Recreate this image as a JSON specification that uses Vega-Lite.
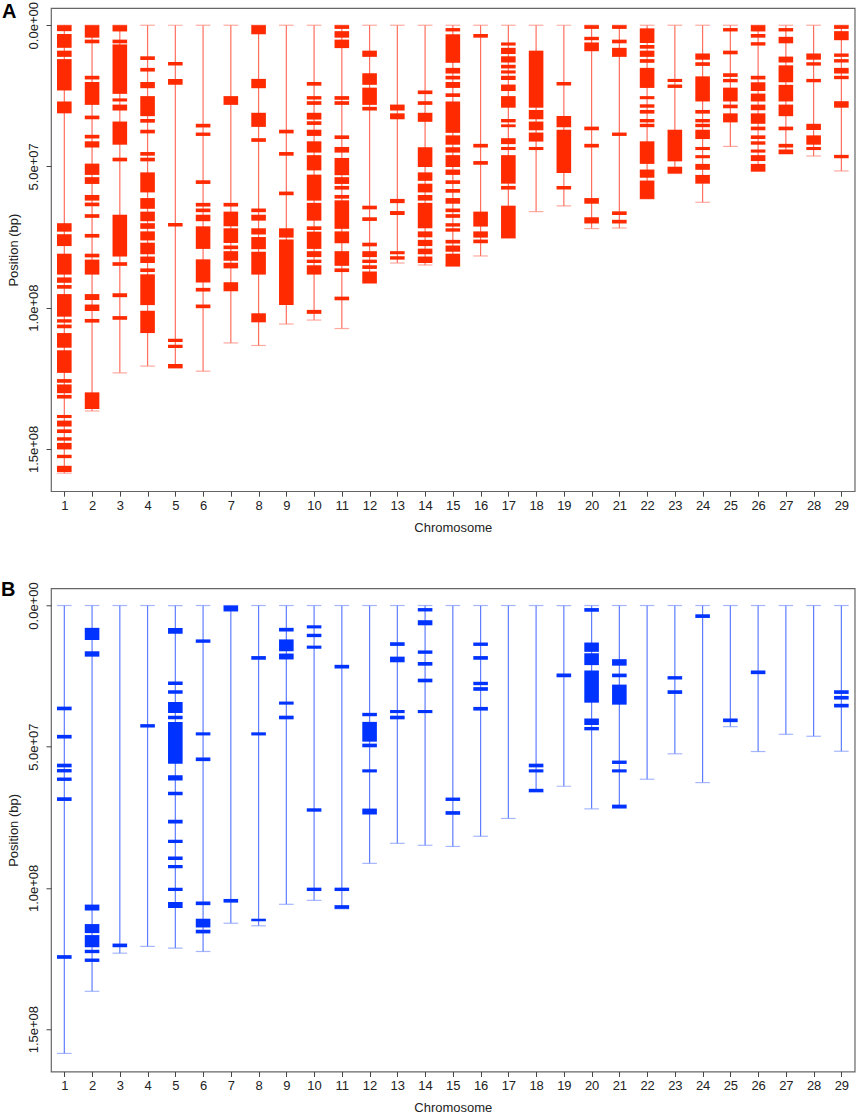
{
  "$schema": "https://vega.github.io/schema/vega-lite/v6.json",
  "background": "white",
  "padding": {"left": 0, "top": 0, "right": 2, "bottom": 0},
  "spacing": 96.3,
  "bounds": "flush",
  "config": {
    "view": {"stroke": "#666666", "strokeWidth": 1.2},
    "font": "Liberation Sans",
    "axis": {"grid": false, "domain": false, "tickColor": "#444444", "tickSize": 5, "labelFontSize": 13, "titleFontSize": 13, "titleFontWeight": "normal", "labelColor": "#222222", "titleColor": "#222222"},
    "axisX": {"labelPadding": 3, "titlePadding": 9, "labelAngle": 0, "labelFlush": false},
    "axisY": {"labelAngle": -90, "labelAlign": "center", "labelBaseline": "middle", "labelPadding": 12, "titlePadding": 7, "labelFlush": false, "labelOverlap": false},
    "title": {"fontSize": 20, "fontWeight": "bold", "color": "#000000", "anchor": "start", "frame": "group"}
  },
  "datasets": {
    "chroms": [
      {"chr":1,"start":0,"length":158600000},{"chr":2,"start":0,"length":136600000},{"chr":3,"start":0,"length":123100000},{"chr":4,"start":0,"length":120700000},{"chr":5,"start":0,"length":121300000},{"chr":6,"start":0,"length":122500000},{"chr":7,"start":0,"length":112500000},{"chr":8,"start":0,"length":113400000},{"chr":9,"start":0,"length":105800000},{"chr":10,"start":0,"length":104400000},{"chr":11,"start":0,"length":107400000},{"chr":12,"start":0,"length":91300000},{"chr":13,"start":0,"length":84200000},{"chr":14,"start":0,"length":84900000},{"chr":15,"start":0,"length":85300000},{"chr":16,"start":0,"length":81700000},{"chr":17,"start":0,"length":75400000},{"chr":18,"start":0,"length":66000000},{"chr":19,"start":0,"length":64000000},{"chr":20,"start":0,"length":72000000},{"chr":21,"start":0,"length":71800000},{"chr":22,"start":0,"length":61500000},{"chr":23,"start":0,"length":52500000},{"chr":24,"start":0,"length":62700000},{"chr":25,"start":0,"length":42900000},{"chr":26,"start":0,"length":51700000},{"chr":27,"start":0,"length":45600000},{"chr":28,"start":0,"length":46300000},{"chr":29,"start":0,"length":51600000}
    ],
    "windows_a": [
      {"chr":1,"start":0,"end":2100000},{"chr":1,"start":3100000,"end":8000000},{"chr":1,"start":9000000,"end":11200000},{"chr":1,"start":12000000,"end":23100000},{"chr":1,"start":27000000,"end":31200000},{"chr":1,"start":70100000,"end":73100000},{"chr":1,"start":74000000,"end":78200000},{"chr":1,"start":80900000,"end":88300000},{"chr":1,"start":89300000,"end":91200000},{"chr":1,"start":92000000,"end":93300000},{"chr":1,"start":95200000,"end":103200000},{"chr":1,"start":104100000,"end":105300000},{"chr":1,"start":106000000,"end":107300000},{"chr":1,"start":109000000,"end":114200000},{"chr":1,"start":115100000,"end":123100000},{"chr":1,"start":125300000,"end":126600000},{"chr":1,"start":127200000,"end":130300000},{"chr":1,"start":130900000,"end":132200000},{"chr":1,"start":138000000,"end":139100000},{"chr":1,"start":140000000,"end":142100000},{"chr":1,"start":143100000,"end":144400000},{"chr":1,"start":145900000,"end":147100000},{"chr":1,"start":147900000,"end":150200000},{"chr":1,"start":152100000,"end":153300000},{"chr":1,"start":156000000,"end":158200000},
      {"chr":2,"start":0,"end":4400000},{"chr":2,"start":5100000,"end":6400000},{"chr":2,"start":17900000,"end":19200000},{"chr":2,"start":20100000,"end":28200000},{"chr":2,"start":32000000,"end":33300000},{"chr":2,"start":38800000,"end":40100000},{"chr":2,"start":41100000,"end":43300000},{"chr":2,"start":49000000,"end":53000000},{"chr":2,"start":53800000,"end":56200000},{"chr":2,"start":60100000,"end":62100000},{"chr":2,"start":62800000,"end":64100000},{"chr":2,"start":66900000,"end":68200000},{"chr":2,"start":73900000,"end":75200000},{"chr":2,"start":80900000,"end":82200000},{"chr":2,"start":83000000,"end":88300000},{"chr":2,"start":95200000,"end":97300000},{"chr":2,"start":98900000,"end":101200000},{"chr":2,"start":104000000,"end":105300000},{"chr":2,"start":130000000,"end":135900000},
      {"chr":3,"start":0,"end":2200000},{"chr":3,"start":5100000,"end":6400000},{"chr":3,"start":6800000,"end":24300000},{"chr":3,"start":25900000,"end":27000000},{"chr":3,"start":28100000,"end":30200000},{"chr":3,"start":34100000,"end":42300000},{"chr":3,"start":46900000,"end":48200000},{"chr":3,"start":67100000,"end":81900000},{"chr":3,"start":83900000,"end":85200000},{"chr":3,"start":94900000,"end":96300000},{"chr":3,"start":103000000,"end":104300000},
      {"chr":4,"start":11000000,"end":12300000},{"chr":4,"start":15100000,"end":16400000},{"chr":4,"start":20100000,"end":22300000},{"chr":4,"start":25100000,"end":32200000},{"chr":4,"start":33200000,"end":34500000},{"chr":4,"start":37000000,"end":38300000},{"chr":4,"start":44900000,"end":46200000},{"chr":4,"start":46900000,"end":48200000},{"chr":4,"start":52100000,"end":59200000},{"chr":4,"start":61200000,"end":65000000},{"chr":4,"start":66000000,"end":69400000},{"chr":4,"start":70100000,"end":72100000},{"chr":4,"start":73000000,"end":76200000},{"chr":4,"start":77000000,"end":81100000},{"chr":4,"start":81900000,"end":84200000},{"chr":4,"start":86100000,"end":87400000},{"chr":4,"start":88200000,"end":99100000},{"chr":4,"start":101100000,"end":109000000},
      {"chr":5,"start":13000000,"end":14300000},{"chr":5,"start":19000000,"end":21100000},{"chr":5,"start":70000000,"end":71300000},{"chr":5,"start":111000000,"end":112200000},{"chr":5,"start":113100000,"end":114300000},{"chr":5,"start":120000000,"end":121500000},
      {"chr":6,"start":34900000,"end":36200000},{"chr":6,"start":38000000,"end":39200000},{"chr":6,"start":54900000,"end":56200000},{"chr":6,"start":62900000,"end":64200000},{"chr":6,"start":64900000,"end":66200000},{"chr":6,"start":67100000,"end":69400000},{"chr":6,"start":71200000,"end":79200000},{"chr":6,"start":82900000,"end":91100000},{"chr":6,"start":93000000,"end":94300000},{"chr":6,"start":98900000,"end":100200000},
      {"chr":7,"start":25100000,"end":28200000},{"chr":7,"start":62900000,"end":64200000},{"chr":7,"start":66000000,"end":71200000},{"chr":7,"start":71900000,"end":77100000},{"chr":7,"start":78000000,"end":79300000},{"chr":7,"start":80000000,"end":83400000},{"chr":7,"start":84100000,"end":86100000},{"chr":7,"start":91000000,"end":94200000},
      {"chr":8,"start":0,"end":3200000},{"chr":8,"start":19000000,"end":22300000},{"chr":8,"start":31000000,"end":36000000},{"chr":8,"start":40000000,"end":41300000},{"chr":8,"start":64900000,"end":66200000},{"chr":8,"start":67100000,"end":69200000},{"chr":8,"start":71900000,"end":74100000},{"chr":8,"start":75000000,"end":79300000},{"chr":8,"start":80200000,"end":88300000},{"chr":8,"start":102000000,"end":105200000},
      {"chr":9,"start":37000000,"end":38300000},{"chr":9,"start":44900000,"end":46200000},{"chr":9,"start":58900000,"end":60200000},{"chr":9,"start":71900000,"end":75200000},{"chr":9,"start":75900000,"end":99100000},
      {"chr":10,"start":20100000,"end":21400000},{"chr":10,"start":25100000,"end":26300000},{"chr":10,"start":26900000,"end":28200000},{"chr":10,"start":31000000,"end":33400000},{"chr":10,"start":34000000,"end":35300000},{"chr":10,"start":37000000,"end":39200000},{"chr":10,"start":41100000,"end":45100000},{"chr":10,"start":46000000,"end":51400000},{"chr":10,"start":52900000,"end":62100000},{"chr":10,"start":62900000,"end":69200000},{"chr":10,"start":71200000,"end":72500000},{"chr":10,"start":73100000,"end":79200000},{"chr":10,"start":80000000,"end":82100000},{"chr":10,"start":83000000,"end":84200000},{"chr":10,"start":85000000,"end":88300000},{"chr":10,"start":100800000,"end":102200000},
      {"chr":11,"start":0,"end":1300000},{"chr":11,"start":2100000,"end":4400000},{"chr":11,"start":5100000,"end":8100000},{"chr":11,"start":25100000,"end":26400000},{"chr":11,"start":26900000,"end":28200000},{"chr":11,"start":39000000,"end":40300000},{"chr":11,"start":43100000,"end":45100000},{"chr":11,"start":47000000,"end":53100000},{"chr":11,"start":53800000,"end":56200000},{"chr":11,"start":56900000,"end":58200000},{"chr":11,"start":60100000,"end":61400000},{"chr":11,"start":62000000,"end":72100000},{"chr":11,"start":73000000,"end":77200000},{"chr":11,"start":80000000,"end":85200000},{"chr":11,"start":86100000,"end":87400000},{"chr":11,"start":96100000,"end":97400000},
      {"chr":12,"start":9000000,"end":11200000},{"chr":12,"start":17000000,"end":21100000},{"chr":12,"start":22100000,"end":28200000},{"chr":12,"start":28900000,"end":30200000},{"chr":12,"start":63900000,"end":65200000},{"chr":12,"start":68000000,"end":69300000},{"chr":12,"start":77000000,"end":78300000},{"chr":12,"start":80000000,"end":82100000},{"chr":12,"start":83000000,"end":84200000},{"chr":12,"start":85000000,"end":86300000},{"chr":12,"start":87200000,"end":91400000},
      {"chr":13,"start":28100000,"end":30200000},{"chr":13,"start":31200000,"end":33300000},{"chr":13,"start":61500000,"end":63000000},{"chr":13,"start":65800000,"end":67200000},{"chr":13,"start":80000000,"end":81100000},{"chr":13,"start":81800000,"end":83000000},
      {"chr":14,"start":23100000,"end":24400000},{"chr":14,"start":26900000,"end":28200000},{"chr":14,"start":31000000,"end":34200000},{"chr":14,"start":43200000,"end":50200000},{"chr":14,"start":52100000,"end":55100000},{"chr":14,"start":56100000,"end":59200000},{"chr":14,"start":60100000,"end":62100000},{"chr":14,"start":62900000,"end":71900000},{"chr":14,"start":73000000,"end":75100000},{"chr":14,"start":76000000,"end":78200000},{"chr":14,"start":79100000,"end":81100000},{"chr":14,"start":81900000,"end":84200000},
      {"chr":15,"start":1000000,"end":2200000},{"chr":15,"start":3200000,"end":13300000},{"chr":15,"start":15100000,"end":17100000},{"chr":15,"start":17900000,"end":19200000},{"chr":15,"start":20100000,"end":22200000},{"chr":15,"start":24100000,"end":25400000},{"chr":15,"start":27000000,"end":38100000},{"chr":15,"start":39000000,"end":42300000},{"chr":15,"start":43200000,"end":45100000},{"chr":15,"start":46000000,"end":50200000},{"chr":15,"start":51100000,"end":53000000},{"chr":15,"start":54900000,"end":56200000},{"chr":15,"start":58000000,"end":59300000},{"chr":15,"start":61200000,"end":63200000},{"chr":15,"start":64900000,"end":66200000},{"chr":15,"start":66900000,"end":68200000},{"chr":15,"start":70100000,"end":71300000},{"chr":15,"start":71900000,"end":73100000},{"chr":15,"start":76000000,"end":77300000},{"chr":15,"start":78000000,"end":80200000},{"chr":15,"start":80900000,"end":85400000},
      {"chr":16,"start":3100000,"end":4400000},{"chr":16,"start":42000000,"end":43300000},{"chr":16,"start":48100000,"end":49400000},{"chr":16,"start":66000000,"end":71300000},{"chr":16,"start":73000000,"end":75200000},{"chr":16,"start":75900000,"end":77200000},
      {"chr":17,"start":6100000,"end":7200000},{"chr":17,"start":8000000,"end":10200000},{"chr":17,"start":11000000,"end":13200000},{"chr":17,"start":14000000,"end":15300000},{"chr":17,"start":16000000,"end":17100000},{"chr":17,"start":17900000,"end":19400000},{"chr":17,"start":21000000,"end":23300000},{"chr":17,"start":25100000,"end":29200000},{"chr":17,"start":33200000,"end":34400000},{"chr":17,"start":35100000,"end":36100000},{"chr":17,"start":40000000,"end":42100000},{"chr":17,"start":43100000,"end":44200000},{"chr":17,"start":46000000,"end":56100000},{"chr":17,"start":56900000,"end":58200000},{"chr":17,"start":63900000,"end":75400000},
      {"chr":18,"start":9000000,"end":29200000},{"chr":18,"start":30000000,"end":33300000},{"chr":18,"start":34100000,"end":37200000},{"chr":18,"start":38000000,"end":41200000},{"chr":18,"start":43100000,"end":44200000},
      {"chr":19,"start":20100000,"end":21300000},{"chr":19,"start":32100000,"end":36100000},{"chr":19,"start":37000000,"end":52300000},{"chr":19,"start":56900000,"end":58200000},
      {"chr":20,"start":0,"end":1300000},{"chr":20,"start":4100000,"end":5300000},{"chr":20,"start":6100000,"end":9200000},{"chr":20,"start":35900000,"end":37200000},{"chr":20,"start":42000000,"end":43300000},{"chr":20,"start":61200000,"end":63200000},{"chr":20,"start":68000000,"end":70200000},
      {"chr":21,"start":0,"end":1300000},{"chr":21,"start":5100000,"end":6400000},{"chr":21,"start":8000000,"end":11200000},{"chr":21,"start":38000000,"end":39200000},{"chr":21,"start":65900000,"end":67200000},{"chr":21,"start":68900000,"end":70200000},
      {"chr":22,"start":1100000,"end":6300000},{"chr":22,"start":7000000,"end":8300000},{"chr":22,"start":9000000,"end":11200000},{"chr":22,"start":12000000,"end":13300000},{"chr":22,"start":15100000,"end":22200000},{"chr":22,"start":25100000,"end":26200000},{"chr":22,"start":28000000,"end":29200000},{"chr":22,"start":30000000,"end":31300000},{"chr":22,"start":33200000,"end":34400000},{"chr":22,"start":34900000,"end":36100000},{"chr":22,"start":41100000,"end":49100000},{"chr":22,"start":51100000,"end":54000000},{"chr":22,"start":55000000,"end":61500000},
      {"chr":23,"start":19000000,"end":20100000},{"chr":23,"start":21000000,"end":22200000},{"chr":23,"start":37000000,"end":48200000},{"chr":23,"start":50100000,"end":52500000},
      {"chr":24,"start":10000000,"end":12200000},{"chr":24,"start":13100000,"end":14400000},{"chr":24,"start":18100000,"end":27000000},{"chr":24,"start":30000000,"end":31300000},{"chr":24,"start":33200000,"end":34400000},{"chr":24,"start":34900000,"end":36100000},{"chr":24,"start":37000000,"end":40300000},{"chr":24,"start":43100000,"end":44200000},{"chr":24,"start":46000000,"end":47100000},{"chr":24,"start":49100000,"end":51200000},{"chr":24,"start":53000000,"end":56100000},
      {"chr":25,"start":1000000,"end":2200000},{"chr":25,"start":9000000,"end":10300000},{"chr":25,"start":17000000,"end":18300000},{"chr":25,"start":19000000,"end":20200000},{"chr":25,"start":22100000,"end":27000000},{"chr":25,"start":28100000,"end":29400000},{"chr":25,"start":31200000,"end":34400000},
      {"chr":26,"start":0,"end":2200000},{"chr":26,"start":3100000,"end":4400000},{"chr":26,"start":6000000,"end":7200000},{"chr":26,"start":17900000,"end":19200000},{"chr":26,"start":20200000,"end":23300000},{"chr":26,"start":24200000,"end":27000000},{"chr":26,"start":28100000,"end":30100000},{"chr":26,"start":31200000,"end":34900000},{"chr":26,"start":35900000,"end":37200000},{"chr":26,"start":39000000,"end":40300000},{"chr":26,"start":41100000,"end":42300000},{"chr":26,"start":44000000,"end":45100000},{"chr":26,"start":46000000,"end":48100000},{"chr":26,"start":49100000,"end":51800000},
      {"chr":27,"start":1000000,"end":2200000},{"chr":27,"start":4100000,"end":6400000},{"chr":27,"start":11100000,"end":13200000},{"chr":27,"start":14200000,"end":20200000},{"chr":27,"start":21100000,"end":27000000},{"chr":27,"start":28100000,"end":32200000},{"chr":27,"start":35900000,"end":37200000},{"chr":27,"start":42000000,"end":43300000},{"chr":27,"start":44000000,"end":45600000},
      {"chr":28,"start":10000000,"end":12200000},{"chr":28,"start":13100000,"end":14300000},{"chr":28,"start":19000000,"end":20200000},{"chr":28,"start":34900000,"end":37100000},{"chr":28,"start":39000000,"end":42300000},{"chr":28,"start":43100000,"end":44200000},
      {"chr":29,"start":0,"end":1300000},{"chr":29,"start":2100000,"end":5300000},{"chr":29,"start":10000000,"end":11200000},{"chr":29,"start":12000000,"end":13200000},{"chr":29,"start":15100000,"end":17100000},{"chr":29,"start":17900000,"end":19100000},{"chr":29,"start":26900000,"end":29200000},{"chr":29,"start":45900000,"end":47100000}
    ],
    "windows_b": [
      {"chr":1,"start":35800000,"end":37100000},{"chr":1,"start":45800000,"end":47100000},{"chr":1,"start":56000000,"end":57300000},{"chr":1,"start":57900000,"end":59100000},{"chr":1,"start":60900000,"end":62100000},{"chr":1,"start":67900000,"end":69200000},{"chr":1,"start":123800000,"end":125100000},
      {"chr":2,"start":7900000,"end":12200000},{"chr":2,"start":16200000,"end":18100000},{"chr":2,"start":105900000,"end":108000000},{"chr":2,"start":112800000,"end":116000000},{"chr":2,"start":116700000,"end":121000000},{"chr":2,"start":121900000,"end":123100000},{"chr":2,"start":125000000,"end":126200000},
      {"chr":3,"start":119700000,"end":121000000},
      {"chr":4,"start":42000000,"end":43200000},
      {"chr":5,"start":8000000,"end":10000000},{"chr":5,"start":26900000,"end":28100000},{"chr":5,"start":30000000,"end":31200000},{"chr":5,"start":34200000,"end":38100000},{"chr":5,"start":39000000,"end":40300000},{"chr":5,"start":41200000,"end":56000000},{"chr":5,"start":60100000,"end":62000000},{"chr":5,"start":65900000,"end":67200000},{"chr":5,"start":75900000,"end":77200000},{"chr":5,"start":82900000,"end":84100000},{"chr":5,"start":88900000,"end":90100000},{"chr":5,"start":91900000,"end":93000000},{"chr":5,"start":99900000,"end":101100000},{"chr":5,"start":105000000,"end":107100000},
      {"chr":6,"start":12000000,"end":13200000},{"chr":6,"start":44900000,"end":46000000},{"chr":6,"start":53800000,"end":55100000},{"chr":6,"start":104800000,"end":106100000},{"chr":6,"start":110900000,"end":114000000},{"chr":6,"start":114800000,"end":116100000},
      {"chr":7,"start":0,"end":2100000},{"chr":7,"start":103900000,"end":105200000},
      {"chr":8,"start":17900000,"end":19200000},{"chr":8,"start":44900000,"end":46000000},{"chr":8,"start":110900000,"end":111800000},
      {"chr":9,"start":7900000,"end":9200000},{"chr":9,"start":12000000,"end":16200000},{"chr":9,"start":17000000,"end":19100000},{"chr":9,"start":34000000,"end":35100000},{"chr":9,"start":39000000,"end":40300000},
      {"chr":10,"start":7000000,"end":8100000},{"chr":10,"start":10000000,"end":11200000},{"chr":10,"start":14200000,"end":15300000},{"chr":10,"start":71800000,"end":73000000},{"chr":10,"start":99900000,"end":101100000},
      {"chr":11,"start":21000000,"end":22300000},{"chr":11,"start":99900000,"end":101100000},{"chr":11,"start":106100000,"end":107400000},
      {"chr":12,"start":38000000,"end":39200000},{"chr":12,"start":41200000,"end":48200000},{"chr":12,"start":48900000,"end":50200000},{"chr":12,"start":58000000,"end":59100000},{"chr":12,"start":71900000,"end":74000000},
      {"chr":13,"start":13000000,"end":14300000},{"chr":13,"start":18100000,"end":20100000},{"chr":13,"start":37000000,"end":38100000},{"chr":13,"start":39000000,"end":40300000},
      {"chr":14,"start":900000,"end":2100000},{"chr":14,"start":5200000,"end":7000000},{"chr":14,"start":15900000,"end":17100000},{"chr":14,"start":20000000,"end":21300000},{"chr":14,"start":25900000,"end":27200000},{"chr":14,"start":37000000,"end":38100000},
      {"chr":15,"start":68000000,"end":69200000},{"chr":15,"start":72800000,"end":74100000},
      {"chr":16,"start":13100000,"end":14300000},{"chr":16,"start":17900000,"end":19200000},{"chr":16,"start":27000000,"end":28200000},{"chr":16,"start":28900000,"end":30200000},{"chr":16,"start":35900000,"end":37200000},
      {"chr":18,"start":56000000,"end":57300000},{"chr":18,"start":58000000,"end":59100000},{"chr":18,"start":64900000,"end":66100000},
      {"chr":19,"start":24100000,"end":25400000},
      {"chr":20,"start":900000,"end":2200000},{"chr":20,"start":13100000,"end":16400000},{"chr":20,"start":16900000,"end":21100000},{"chr":20,"start":23000000,"end":34400000},{"chr":20,"start":40000000,"end":42300000},{"chr":20,"start":43000000,"end":44200000},
      {"chr":21,"start":19000000,"end":21300000},{"chr":21,"start":24100000,"end":25400000},{"chr":21,"start":28000000,"end":35100000},{"chr":21,"start":54900000,"end":56100000},{"chr":21,"start":58000000,"end":59100000},{"chr":21,"start":70500000,"end":71800000},
      {"chr":23,"start":25000000,"end":26200000},{"chr":23,"start":30000000,"end":31300000},
      {"chr":24,"start":3100000,"end":4400000},
      {"chr":25,"start":40000000,"end":41300000},
      {"chr":26,"start":23000000,"end":24300000},
      {"chr":29,"start":30000000,"end":31300000},{"chr":29,"start":32000000,"end":33300000},{"chr":29,"start":34800000,"end":36100000}
    ]
  },
  "vconcat": [
    {
      "title": {"text": "A", "dx": -49, "dy": 24},
      "width": 803.7,
      "height": 483.2,
      "encoding": {
        "x": {"field": "chr", "type": "quantitative", "title": "Chromosome", "scale": {"domain": [0.52, 29.48], "nice": false, "zero": false, "padding": 0}, "axis": {"values": [1,2,3,4,5,6,7,8,9,10,11,12,13,14,15,16,17,18,19,20,21,22,23,24,25,26,27,28,29], "format": "d"}},
        "y": {"field": "start", "type": "quantitative", "title": "Position (bp)", "scale": {"domain": [-6100000, 165000000], "reverse": true, "nice": false, "zero": false, "padding": 0}, "axis": {"values": [0, 50000000, 100000000, 150000000], "labelExpr": "replace(format(datum.value, '.1e'), 'e+', 'e+0')"}}
      },
      "layer": [
        {"data": {"name": "chroms"}, "mark": {"type": "rule", "color": "#ff6f5e", "strokeWidth": 1.2}, "encoding": {"y2": {"field": "length"}}},
        {"data": {"name": "chroms"}, "mark": {"type": "tick", "orient": "horizontal", "color": "#ff8577", "size": 14.6, "thickness": 1.2}},
        {"data": {"name": "chroms"}, "mark": {"type": "tick", "orient": "horizontal", "color": "#ff8577", "size": 14.6, "thickness": 1.2}, "encoding": {"y": {"field": "length", "type": "quantitative"}}},
        {"data": {"name": "windows_a"}, "mark": {"type": "bar", "size": 14.6, "color": "#ff2a00"}, "encoding": {"y2": {"field": "end"}}}
      ]
    },
    {
      "title": {"text": "B", "dx": -50, "dy": 22},
      "width": 803.7,
      "height": 483.2,
      "encoding": {
        "x": {"field": "chr", "type": "quantitative", "title": "Chromosome", "scale": {"domain": [0.52, 29.48], "nice": false, "zero": false, "padding": 0}, "axis": {"values": [1,2,3,4,5,6,7,8,9,10,11,12,13,14,15,16,17,18,19,20,21,22,23,24,25,26,27,28,29], "format": "d"}},
        "y": {"field": "start", "type": "quantitative", "title": "Position (bp)", "scale": {"domain": [-6100000, 165000000], "reverse": true, "nice": false, "zero": false, "padding": 0}, "axis": {"values": [0, 50000000, 100000000, 150000000], "labelExpr": "replace(format(datum.value, '.1e'), 'e+', 'e+0')"}}
      },
      "layer": [
        {"data": {"name": "chroms"}, "mark": {"type": "rule", "color": "#5f7dff", "strokeWidth": 1.2}, "encoding": {"y2": {"field": "length"}}},
        {"data": {"name": "chroms"}, "mark": {"type": "tick", "orient": "horizontal", "color": "#7f97ff", "size": 14.6, "thickness": 1.2}},
        {"data": {"name": "chroms"}, "mark": {"type": "tick", "orient": "horizontal", "color": "#7f97ff", "size": 14.6, "thickness": 1.2}, "encoding": {"y": {"field": "length", "type": "quantitative"}}},
        {"data": {"name": "windows_b"}, "mark": {"type": "bar", "size": 14.6, "color": "#0033ff"}, "encoding": {"y2": {"field": "end"}}}
      ]
    }
  ]
}
